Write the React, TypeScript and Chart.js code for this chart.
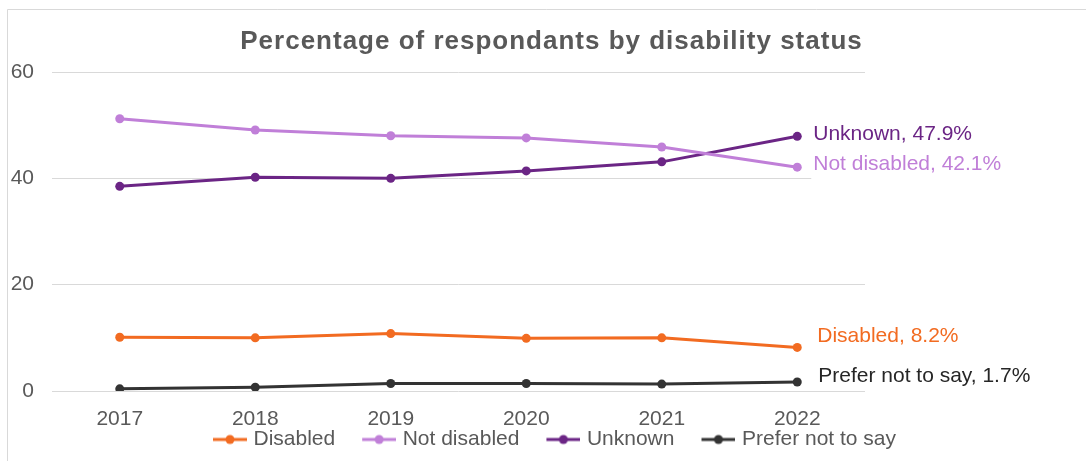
import React, { useEffect, useRef } from "react";
import { Chart, registerables } from "chart.js";

Chart.register(...registerables);

// ---- data ----
const years = ["2017", "2018", "2019", "2020", "2021", "2022"];
const seriesNames = ["Disabled", "Not disabled", "Unknown", "Prefer not to say"];
const disabled = [10.1, 10.0, 10.8, 9.9, 10.0, 8.2];
const notDisabled = [51.2, 49.1, 48.0, 47.6, 45.9, 42.1];
const unknown = [38.5, 40.2, 40.0, 41.4, 43.1, 47.9];
const preferNot = [0.4, 0.7, 1.4, 1.4, 1.3, 1.7];
const yTickValues = [0, 20, 40, 60];
const titleText = "Percentage of respondants by disability status";

// ---- styles ----
const colors = ["#F26B21", "#C07FD8", "#6B2585", "#333333"];
const labelColors = ["#F26B21", "#C07FD8", "#6B2585", "#262626"];
const labelOffsets = [
  { dx: 20, dy: -11 },
  { dx: 16, dy: -3 },
  { dx: 16, dy: -2 },
  { dx: 21, dy: -6 },
];
const FONT = "'Liberation Sans', Arial, sans-serif";
const TEXT = "#595959";
const GRID = "#d9d9d9";

const PAD_L = 0;
const PAD_R = 0;
const LEG_PAD = 4;
const LEG_EXTRA = 27;

function makeIcon(color: string): HTMLCanvasElement {
  // marker (34px line + dot) drawn in the right-hand part of a wider image
  const c = document.createElement("canvas");
  c.width = 34 + LEG_EXTRA;
  c.height = 12;
  const g = c.getContext("2d")!;
  const x0 = LEG_EXTRA;
  g.strokeStyle = color;
  g.lineWidth = 3;
  g.beginPath();
  g.moveTo(x0, 6);
  g.lineTo(x0 + 34, 6);
  g.stroke();
  g.fillStyle = color;
  g.beginPath();
  g.arc(x0 + 17, 6, 4.5, 0, Math.PI * 2);
  g.fill();
  return c;
}

const framePlugin = {
  id: "frame",
  beforeDraw(chart: any) {
    const ctx = chart.ctx;
    ctx.save();
    ctx.fillStyle = "#ffffff";
    ctx.fillRect(0, 0, chart.width, chart.height);
    ctx.strokeStyle = GRID;
    ctx.lineWidth = 1;
    ctx.beginPath();
    ctx.moveTo(7.5, chart.height);
    ctx.lineTo(7.5, 9.5);
    ctx.lineTo(chart.width, 9.5);
    ctx.stroke();
    ctx.restore();
  },
  afterDraw(chart: any) {
    const ctx = chart.ctx;
    ctx.save();
    ctx.font = `bold 26px ${FONT}`;
    (ctx as any).letterSpacing = "1px";
    ctx.fillStyle = TEXT;
    ctx.textAlign = "center";
    ctx.textBaseline = "alphabetic";
    ctx.fillText(titleText, 551.5, 49);
    (ctx as any).letterSpacing = "0px";
    ctx.restore();
  },
};

const endLabelPlugin = {
  id: "endLabels",
  afterDatasetsDraw(chart: any) {
    const ctx = chart.ctx;
    ctx.save();
    ctx.font = `21px ${FONT}`;
    ctx.textAlign = "left";
    ctx.textBaseline = "middle";
    chart.data.datasets.forEach((ds: any, i: number) => {
      const meta = chart.getDatasetMeta(i);
      const pt = meta.data[meta.data.length - 1];
      const val = ds.data[ds.data.length - 1];
      const text = `${ds.label}, ${Number(val).toFixed(1)}%`;
      const x = pt.x + labelOffsets[i].dx;
      const y = pt.y + labelOffsets[i].dy;
      const w = ctx.measureText(text).width;
      ctx.fillStyle = "#ffffff";
      ctx.fillRect(x - 2, y - 14, w + 4, 28.9);
      ctx.fillStyle = labelColors[i];
      ctx.fillText(text, x, y);
    });
    ctx.restore();
  },
};

export default function App() {
  const ref = useRef<HTMLCanvasElement>(null);

  useEffect(() => {
    const canvas = ref.current!;
    const seriesData = [disabled, notDisabled, unknown, preferNot];
    const icons = colors.map(makeIcon);
    const chart = new Chart(canvas, {
      type: "line",
      data: {
        labels: years,
        datasets: seriesData.map((d, i) => ({
          label: seriesNames[i],
          data: d,
          borderColor: colors[i],
          backgroundColor: colors[i],
          pointBackgroundColor: colors[i],
          pointBorderWidth: 0,
          pointRadius: 4.5,
          borderWidth: 3,
          tension: 0,
          fill: false,
          yAxisID: "y",
        })),
      },
      options: {
        responsive: false,
        animation: false,
        layout: { padding: { left: PAD_L, right: PAD_R, top: 72, bottom: 1 } },
        plugins: {
          title: { display: false },
          tooltip: { enabled: false },
          legend: {
            position: "bottom",
            labels: {
              usePointStyle: true,
              pointStyleWidth: 26 + LEG_EXTRA,
              padding: LEG_PAD,
              font: { family: FONT, size: 21 },
              color: TEXT,
              generateLabels: (c: any) =>
                c.data.datasets.map((ds: any, i: number) => ({
                  text: ds.label,
                  fillStyle: colors[i],
                  strokeStyle: colors[i],
                  lineWidth: 0,
                  pointStyle: icons[i],
                  hidden: false,
                  datasetIndex: i,
                  fontColor: TEXT,
                })),
            },
          },
        },
        scales: {
          x: {
            type: "category",
            offset: true,
            grid: { display: false },
            border: { display: false },
            ticks: {
              font: { family: FONT, size: 21 },
              color: TEXT,
              padding: 8,
              maxRotation: 0,
              autoSkip: false,
            },
            afterFit: (s: any) => {
              s.height = 34;
            },
          },
          y: {
            type: "linear",
            position: "left",
            min: 0,
            max: 60,
            afterBuildTicks: (s: any) => {
              s.ticks = yTickValues.map((v) => ({ value: v }));
            },
            grid: { color: GRID, lineWidth: 1, drawTicks: false },
            border: { display: false },
            ticks: {
              font: { family: FONT, size: 21 },
              color: TEXT,
              padding: 18,
            },
            afterFit: (s: any) => {
              s.width = 52 - PAD_L;
            },
          },
          yR: {
            type: "linear",
            position: "right",
            display: true,
            grid: { display: false },
            border: { display: false },
            ticks: { display: false },
            afterFit: (s: any) => {
              s.width = 221 - PAD_R;
            },
          },
        },
      },
      plugins: [framePlugin, endLabelPlugin],
    } as any);
    return () => chart.destroy();
  }, []);

  return (
    <div style={{ position: "absolute", left: 0, top: 0, width: 1086, height: 461 }}>
      <canvas ref={ref} width={1086} height={461} style={{ display: "block", width: 1086, height: 461 }} />
    </div>
  );
}
